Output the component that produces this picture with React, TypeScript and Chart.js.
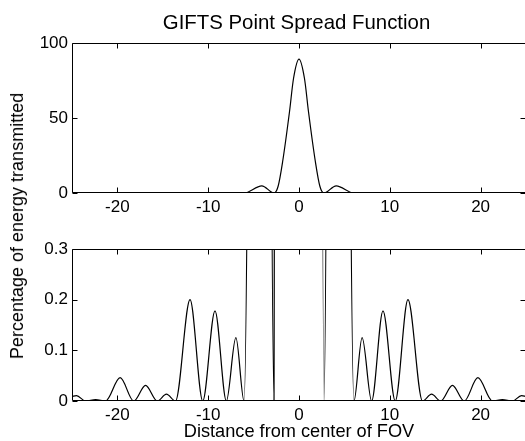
import React, { useEffect, useRef } from "react";
import { Chart, registerables } from "chart.js";

Chart.register(...registerables);

const titleText = "GIFTS Point Spread Function";
const xLabelText = "Distance from center of FOV";
const yLabelText = "Percentage of energy transmitted";

// Distance from center of FOV (x) and percentage of energy transmitted (y)
const distance = [
  -25, -24.5, -23.5, -22.4, -21.3, -19.7, -18.2, -16.9, -15.6, -14.6, -13.6,
  -12.0, -10.6, -9.25, -8.0, -6.95, -6.05, -4.1, -2.75, -2.3, -1.8, -1.05,
  -0.6, 0, 0.6, 1.05, 1.8, 2.3, 2.75, 4.1, 6.05, 6.95, 8.0, 9.25, 10.6, 12.0,
  13.6, 14.6, 15.6, 16.9, 18.2, 19.7, 21.3, 22.4, 23.5, 24.5, 25,
];
const energy = [
  0.009, 0.0105, 0, 0.003, 0, 0.046, 0, 0.031, 0, 0.0135, 0,
  0.2, 0, 0.178, 0, 0.125, 0, 4.8, 0, 4.5, 21, 54,
  76.5, 89.3, 76.5, 54, 21, 4.5, 0, 4.8, 0, 0.125, 0, 0.178, 0, 0.2,
  0, 0.0135, 0, 0.031, 0, 0.046, 0, 0.003, 0, 0.0105, 0.009,
];

const xTicks = [-20, -10, 0, 10, 20];
const xMin = -25;
const xMax = 25;
const topYTicks = [0, 50, 100];
const bottomYTicks = [0, 0.1, 0.2, 0.3];

const FONT = "'Liberation Sans', Arial, Helvetica, sans-serif";

const boxPlugin = {
  id: "matlabBox",
  afterDraw(chart: any) {
    const { ctx, chartArea: a, scales } = chart;
    const L = Math.round(a.left) + 0.5;
    const R = Math.round(a.right) - 0.5;
    const T = Math.round(a.top) + 0.5;
    const B = Math.round(a.bottom) - 0.5;
    const tl = 5;
    ctx.save();
    ctx.strokeStyle = "#000";
    ctx.lineWidth = 1;
    ctx.beginPath();
    ctx.rect(L, T, R - L, B - T);
    for (const t of scales.x.ticks) {
      const px = Math.round(scales.x.getPixelForValue(t.value)) + 0.5;
      ctx.moveTo(px, B);
      ctx.lineTo(px, B - tl);
      ctx.moveTo(px, T);
      ctx.lineTo(px, T + tl);
    }
    for (const t of scales.y.ticks) {
      const py = Math.round(scales.y.getPixelForValue(t.value)) + 0.5;
      ctx.moveTo(L, py);
      ctx.lineTo(L + tl, py);
      ctx.moveTo(R, py);
      ctx.lineTo(R - tl, py);
    }
    ctx.stroke();
    ctx.restore();
  },
};

function makeConfig(
  yMin: number,
  yMax: number,
  yTicks: number[],
  padTop: number,
  xAxisHeight: number
): any {
  return {
    type: "line",
    data: {
      datasets: [
        {
          data: distance.map((x, i) => ({ x, y: energy[i] })),
          borderColor: "#000",
          borderWidth: 1.2,
          pointRadius: 0,
          cubicInterpolationMode: "monotone",
          fill: false,
        },
      ],
    },
    options: {
      responsive: false,
      animation: false,
      events: [],
      layout: { padding: { top: padTop, right: 4, left: 0, bottom: 0 } },
      plugins: { legend: { display: false }, tooltip: { enabled: false }, title: { display: false } },
      scales: {
        x: {
          type: "linear",
          min: xMin,
          max: xMax,
          grid: { display: false, drawTicks: false },
          border: { display: false },
          afterBuildTicks: (s: any) => {
            s.ticks = xTicks.map((v) => ({ value: v }));
          },
          afterFit: (s: any) => {
            s.height = xAxisHeight;
          },
          ticks: {
            color: "#000",
            font: { family: FONT, size: 17 },
            padding: 4,
            maxRotation: 0,
            autoSkip: false,
          },
        },
        y: {
          type: "linear",
          min: yMin,
          max: yMax,
          grid: { display: false, drawTicks: false },
          border: { display: false },
          afterBuildTicks: (s: any) => {
            s.ticks = yTicks.map((v) => ({ value: v }));
          },
          afterFit: (s: any) => {
            s.width = 72;
          },
          ticks: {
            color: "#000",
            font: { family: FONT, size: 17 },
            padding: 4,
            autoSkip: false,
          },
        },
      },
    },
    plugins: [boxPlugin],
  };
}

function Panel(props: {
  top: number;
  height: number;
  yMin: number;
  yMax: number;
  yTicks: number[];
  padTop: number;
  xAxisHeight: number;
}) {
  const ref = useRef<HTMLCanvasElement | null>(null);
  useEffect(() => {
    if (!ref.current) return;
    const chart = new Chart(
      ref.current,
      makeConfig(props.yMin, props.yMax, props.yTicks, props.padTop, props.xAxisHeight)
    );
    return () => chart.destroy();
  }, []);
  return (
    <canvas
      ref={ref}
      width={530}
      height={props.height}
      style={{ position: "absolute", left: 0, top: props.top, width: 530, height: props.height }}
    />
  );
}

export default function App() {
  return (
    <div
      style={{
        position: "fixed",
        left: 0,
        top: 0,
        width: 525,
        height: 441,
        overflow: "hidden",
        background: "#fff",
        fontFamily: FONT,
        color: "#000",
      }}
    >
      <Panel top={0} height={226} yMin={0} yMax={100} yTicks={topYTicks} padTop={43} xAxisHeight={33} />
      <Panel top={226} height={215} yMin={0} yMax={0.3} yTicks={bottomYTicks} padTop={23} xAxisHeight={40} />
      <div
        style={{
          position: "absolute",
          left: 296.5,
          top: 12,
          transform: "translateX(-50%)",
          fontSize: 20.4,
          lineHeight: "20px",
          whiteSpace: "nowrap",
        }}
      >
        {titleText}
      </div>
      <div
        style={{
          position: "absolute",
          left: 299,
          top: 422,
          transform: "translateX(-50%)",
          fontSize: 18.2,
          lineHeight: "18px",
          whiteSpace: "nowrap",
        }}
      >
        {xLabelText}
      </div>
      <div
        style={{
          position: "absolute",
          left: 17,
          top: 226,
          transform: "translate(-50%, -50%) rotate(-90deg)",
          fontSize: 18,
          lineHeight: "18px",
          whiteSpace: "nowrap",
        }}
      >
        {yLabelText}
      </div>
    </div>
  );
}
